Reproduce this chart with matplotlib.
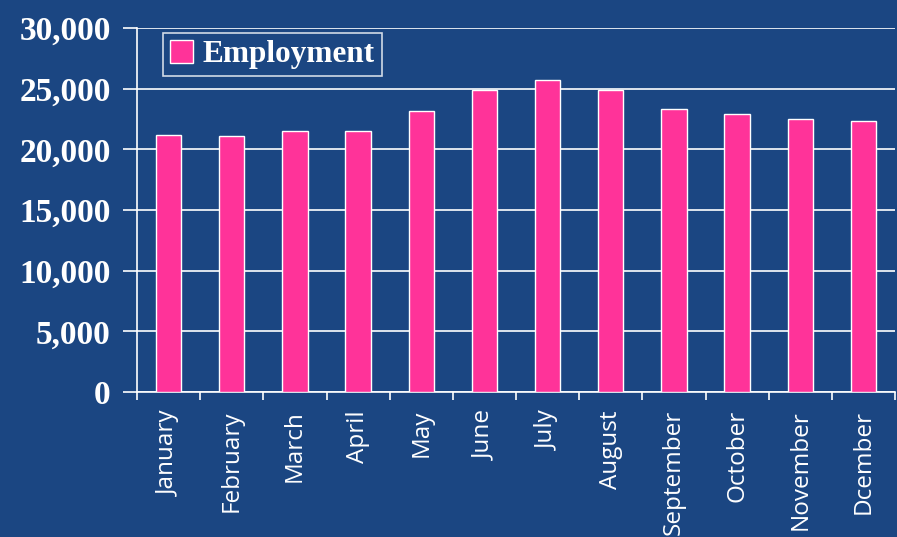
import numpy as np
import matplotlib.pyplot as plt
from matplotlib.ticker import FuncFormatter, FixedLocator

months = ['January', 'February', 'March', 'April', 'May', 'June', 'July',
          'August', 'September', 'October', 'November', 'Dcember']
employment = [21200, 21100, 21500, 21500, 23200, 24900, 25750,
              24900, 23300, 22900, 22500, 22350]
y_ticks = [0, 5000, 10000, 15000, 20000, 25000, 30000]

bg = '#1b4682'
pink = '#ff3399'

fig = plt.figure(figsize=(8.97, 5.37), dpi=100)
fig.patch.set_facecolor(bg)
ax = fig.add_axes([137 / 897, 145 / 537, 758 / 897, 364 / 537])
ax.set_facecolor(bg)

x = np.arange(len(months))
ax.bar(x, employment, width=0.4, color=pink, edgecolor='white', linewidth=1,
       label='Employment', zorder=3)

ax.set_xlim(-0.5, len(months) - 0.5)
ax.set_ylim(0, 30000)
ax.set_yticks(y_ticks)
ax.yaxis.set_major_formatter(FuncFormatter(lambda v, p: f'{int(v):,}'))
ax.yaxis.grid(True, color='white', linewidth=1.2, zorder=0)
ax.set_axisbelow(True)

ax.set_xticks(x)
ax.set_xticklabels(months, rotation=90, color='white', fontsize=17.5,
                   family='Open Sans')
ax.xaxis.set_minor_locator(FixedLocator(np.arange(-0.5, len(months), 1)))
ax.tick_params(axis='x', which='major', length=0, pad=13)
ax.tick_params(axis='x', which='minor', length=6, color='white', width=1.2)
ax.tick_params(axis='y', length=10, color='white', width=1.2, pad=9)

for lab in ax.get_yticklabels():
    lab.set_family('Liberation Serif')
    lab.set_fontweight('bold')
    lab.set_fontsize(24)
    lab.set_color('white')

for side in ['top', 'right']:
    ax.spines[side].set_visible(False)
for side in ['left', 'bottom']:
    ax.spines[side].set_color('white')
    ax.spines[side].set_linewidth(1.2)

leg = ax.legend(loc='upper left', bbox_to_anchor=(0.0343, 0.986), frameon=True,
                fancybox=False, handlelength=0.75, handleheight=0.75,
                handletextpad=0.3, borderpad=0.22, borderaxespad=0,
                prop={'family': 'Liberation Serif', 'weight': 'bold', 'size': 22.5})
leg.get_frame().set_facecolor('none')
leg.get_frame().set_edgecolor('white')
leg.get_frame().set_linewidth(1.2)
for t in leg.get_texts():
    t.set_color('white')

fig.savefig('out.png', dpi=100, facecolor=bg)
